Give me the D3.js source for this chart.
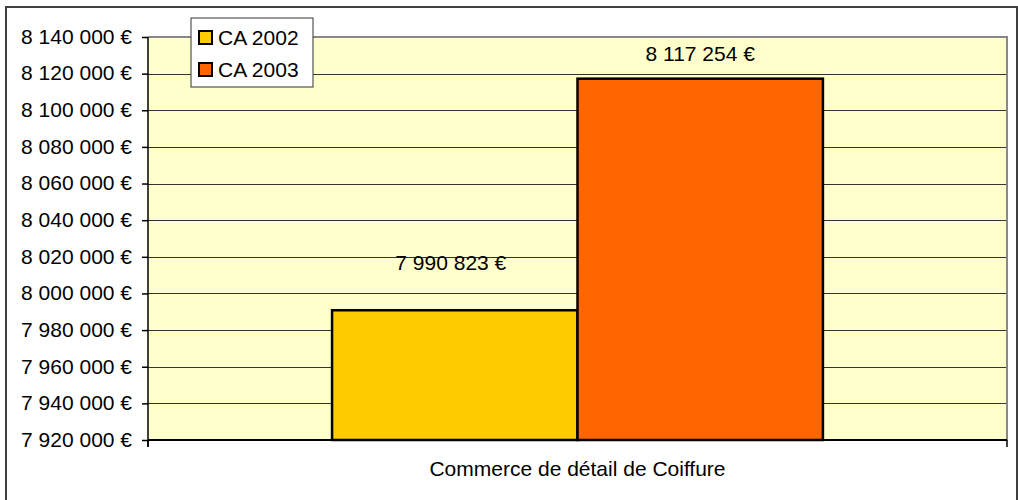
<!DOCTYPE html>
<html>
<head>
<meta charset="utf-8">
<script src="https://cdnjs.cloudflare.com/ajax/libs/d3/7.8.5/d3.min.js"></script>
<style>
  html, body { margin: 0; padding: 0; background: #fff; }
  svg { display: block; font-family: "Liberation Sans", Arial, sans-serif; }
</style>
</head>
<body>
<svg id="chart" width="1018" height="500"></svg>
<script>
// Chiffre d'affaires du commerce de détail de coiffure
const categories = ["Commerce de détail de Coiffure"];
const seriesNames = ["CA 2002", "CA 2003"];
const seriesValues = [7990823, 8117254];
const seriesColors = ["#FFCC00", "#FF6600"];
const yTicks = [7920000, 7940000, 7960000, 7980000, 8000000, 8020000, 8040000,
                8060000, 8080000, 8100000, 8120000, 8140000];

const fmt = v => d3.format(",")(v).replace(/,/g, " ") + " €";
const FONT = 21;

const svg = d3.select("#chart");
const plot = { left: 148, top: 37, right: 1007, bottom: 440 };

// Outer frame
svg.append("rect")
  .attr("x", 6).attr("y", 7).attr("width", 1011).attr("height", 496)
  .attr("fill", "#fff").attr("stroke", "#404040").attr("stroke-width", 2);

const y = d3.scaleLinear()
  .domain([yTicks[0], yTicks[yTicks.length - 1]])
  .range([plot.bottom, plot.top]);

const x0 = d3.scaleBand()
  .domain(categories)
  .range([plot.left, plot.right]);

// Bars take 2 of 3.5 units of the category width (gap width 150%)
const groupWidth = x0.bandwidth() * 2 / 3.5;
const x1 = d3.scaleBand()
  .domain(seriesNames)
  .range([0, groupWidth]);

// Plot area background
svg.append("rect")
  .attr("x", plot.left).attr("y", plot.top)
  .attr("width", plot.right - plot.left).attr("height", plot.bottom - plot.top)
  .attr("fill", "#FFFFCC");

// Horizontal gridlines
svg.append("g")
  .selectAll("line")
  .data(yTicks.slice(1, -1))
  .join("line")
  .attr("x1", plot.left).attr("x2", plot.right)
  .attr("y1", d => Math.round(y(d)) + 0.5).attr("y2", d => Math.round(y(d)) + 0.5)
  .attr("stroke", "#333").attr("stroke-width", 1);

// Plot area border (top and right)
svg.append("path")
  .attr("d", `M${plot.left},${plot.top}H${plot.right}V${plot.bottom}`)
  .attr("fill", "none").attr("stroke", "#888").attr("stroke-width", 2);

// Bars
const barData = seriesNames.map((s, i) => ({ series: s, value: seriesValues[i], color: seriesColors[i] }));
const gx = x0(categories[0]) + (x0.bandwidth() - groupWidth) / 2;
svg.append("g")
  .selectAll("rect")
  .data(barData)
  .join("rect")
  .attr("x", d => gx + x1(d.series))
  .attr("y", d => y(d.value))
  .attr("width", x1.bandwidth())
  .attr("height", d => y(yTicks[0]) - y(d.value))
  .attr("fill", d => d.color)
  .attr("stroke", "#000").attr("stroke-width", 2.5);

// Value labels
const labelLift = [40, 18];
const labelShift = [-4, 0];
svg.append("g")
  .selectAll("text")
  .data(barData)
  .join("text")
  .attr("x", (d, i) => gx + x1(d.series) + x1.bandwidth() / 2 + labelShift[i])
  .attr("y", (d, i) => y(d.value) - labelLift[i])
  .attr("text-anchor", "middle")
  .attr("font-size", FONT)
  .attr("fill", "#000")
  .text(d => fmt(d.value));

// Y axis
const yAxis = d3.axisLeft(y)
  .tickValues(yTicks)
  .tickSize(6)
  .tickPadding(10)
  .tickFormat(fmt);
const gy = svg.append("g")
  .attr("transform", `translate(${plot.left},0)`)
  .call(yAxis);
gy.select(".domain").attr("stroke", "#000").attr("stroke-width", 1.5)
  .attr("d", `M0,${plot.top}V${plot.bottom + 7}`);
gy.selectAll(".tick line").attr("stroke", "#000").attr("stroke-width", 1.5);
gy.selectAll(".tick text")
  .attr("font-size", FONT)
  .attr("font-family", "Liberation Sans, Arial, sans-serif")
  .attr("fill", "#000")
  .attr("dy", "0.3em");

// X axis
const xAxis = d3.axisBottom(x0).tickSize(0).tickPadding(21);
const gxAxis = svg.append("g")
  .attr("transform", `translate(0,${plot.bottom})`)
  .call(xAxis);
gxAxis.select(".domain").attr("stroke", "#000").attr("stroke-width", 2)
  .attr("d", `M${plot.left},0H${plot.right}`);
gxAxis.selectAll(".tick text")
  .attr("font-size", FONT)
  .attr("font-family", "Liberation Sans, Arial, sans-serif")
  .attr("fill", "#000");
gxAxis.selectAll(".edge")
  .data([plot.left, plot.right])
  .join("line")
  .attr("class", "edge")
  .attr("x1", d => d).attr("x2", d => d)
  .attr("y1", 0).attr("y2", 7)
  .attr("stroke", "#000").attr("stroke-width", 1.5);

// Legend
const legend = svg.append("g").attr("transform", "translate(191,18)");
legend.append("rect")
  .attr("x", 0).attr("y", 0).attr("width", 122).attr("height", 69)
  .attr("fill", "#fff").attr("stroke", "#333").attr("stroke-width", 1);
const items = legend.selectAll("g.item")
  .data(barData)
  .join("g")
  .attr("class", "item")
  .attr("transform", (d, i) => `translate(8,${13 + i * 32})`);
items.append("rect")
  .attr("x", 0).attr("y", 0).attr("width", 13).attr("height", 13)
  .attr("fill", d => d.color).attr("stroke", "#000").attr("stroke-width", 2);
items.append("text")
  .attr("x", 19).attr("y", 13.5)
  .attr("font-size", FONT)
  .attr("fill", "#000")
  .text(d => d.series);
</script>
</body>
</html>
